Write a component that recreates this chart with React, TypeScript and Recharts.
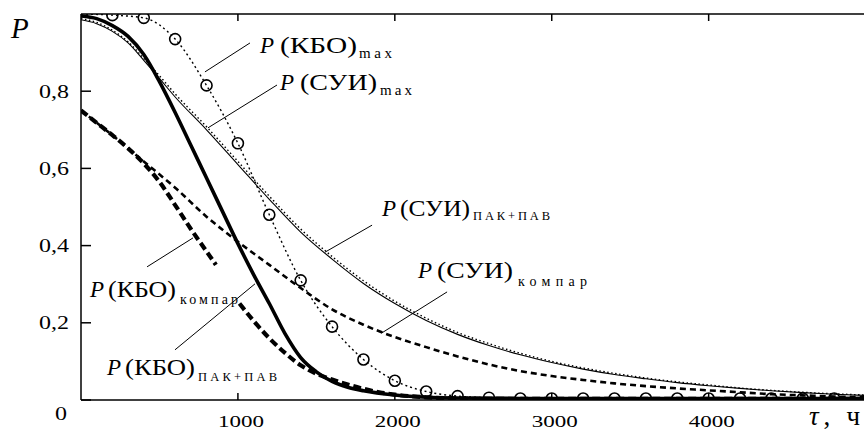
import { LineChart, Line, XAxis, YAxis, ReferenceLine } from 'recharts';

// P(КБО)max – dotted with circles
const tKboMax = [0, 200, 400, 600, 800, 1000, 1200, 1400, 1600, 1800, 2000, 2200, 2400, 2600, 2800, 3000, 3200, 3400, 3600, 3800, 4000, 4200, 4400, 4600, 4800];
const pKboMax = [1.0, 0.997, 0.99, 0.935, 0.815, 0.665, 0.48, 0.31, 0.19, 0.105, 0.05, 0.022, 0.01, 0.006, 0.004, 0.004, 0.004, 0.004, 0.004, 0.004, 0.004, 0.004, 0.004, 0.004, 0.004];

// P(КБО)ПАК+ПАВ – thick solid
const tKboPak = [0, 100, 200, 300, 400, 500, 600, 700, 800, 900, 1000, 1100, 1200, 1300, 1400, 1500, 1600, 1700, 1800, 2000, 2200, 2400, 2800, 3200, 3600, 4000, 4500, 4990];
const pKboPak = [0.995, 0.988, 0.97, 0.942, 0.895, 0.825, 0.745, 0.66, 0.575, 0.49, 0.405, 0.325, 0.25, 0.172, 0.11, 0.073, 0.048, 0.033, 0.024, 0.013, 0.007, 0.005, 0.004, 0.004, 0.004, 0.004, 0.004, 0.004];

// P(КБО)компар – thick dashed (gap where the label sits)
const tKboKomp = [0, 100, 200, 300, 400, 500, 600, 700, 800, 860, 940, 1010, 1100, 1200, 1300, 1400, 1500, 1600, 1700, 1800, 1900, 2000, 2200, 2400, 2600, 3200, 4000, 4990];
const pKboKomp = [0.75, 0.718, 0.686, 0.652, 0.613, 0.565, 0.505, 0.443, 0.385, 0.35, null, 0.25, 0.205, 0.16, 0.122, 0.09, 0.068, 0.053, 0.04, 0.029, 0.02, 0.014, 0.007, 0.004, 0.003, 0.003, 0.003, 0.003];

// shared grid for the СУИ curves
const tSui = [0, 100, 200, 300, 400, 500, 600, 800, 1000, 1200, 1400, 1600, 1800, 2000, 2200, 2400, 2600, 2800, 3000, 3200, 3400, 3600, 3800, 4000, 4200, 4400, 4600, 4800, 4990];
// P(СУИ)max – thin solid
const pSuiMax = [0.985, 0.975, 0.955, 0.925, 0.88, 0.833, 0.785, 0.7, 0.61, 0.52, 0.435, 0.365, 0.302, 0.25, 0.206, 0.17, 0.141, 0.117, 0.097, 0.08, 0.066, 0.055, 0.045, 0.037, 0.03, 0.024, 0.019, 0.015, 0.012];
// P(СУИ)ПАК+ПАВ – thin dotted
const pSuiPak = [0.988, 0.978, 0.958, 0.928, 0.885, 0.84, 0.793, 0.708, 0.618, 0.528, 0.443, 0.372, 0.309, 0.256, 0.212, 0.175, 0.146, 0.121, 0.1, 0.083, 0.069, 0.057, 0.047, 0.039, 0.031, 0.025, 0.02, 0.016, 0.013];

// P(СУИ)компар – medium dashed
const tSuiKomp = [0, 200, 400, 600, 800, 1000, 1200, 1400, 1600, 1800, 2000, 2200, 2400, 2600, 2800, 3000, 3200, 3400, 3600, 3800, 4000, 4200, 4400, 4600, 4800, 4990];
const pSuiKomp = [0.75, 0.686, 0.618, 0.55, 0.475, 0.41, 0.35, 0.29, 0.235, 0.195, 0.163, 0.137, 0.113, 0.092, 0.075, 0.062, 0.052, 0.043, 0.036, 0.03, 0.025, 0.02, 0.015, 0.012, 0.009, 0.007];

const xTicks = [1000, 2000, 3000, 4000];
const yTicks = [0, 0.2, 0.4, 0.6, 0.8];

// leader lines from labels to curves (data coords)
const leaders = [
  [[1077, 0.925], [790, 0.85]],
  [[1249, 0.816], [809, 0.705]],
  [[1855, 0.453], [1555, 0.383]],
  [[2333, 0.28], [1918, 0.174]],
  [[421, 0.345], [714, 0.42]],
  [[599, 0.13], [1109, 0.301]],
];

// curve labels: P at px, (name) start/width, subscript start/width, baselines
const labels = [
  { p: 260, y: 53, name: 'КБО', nx: 280, nw: 77, sub: 'max', sx: 359, sw: 33, sy: 58, ss: 15 },
  { p: 280, y: 90, name: 'СУИ', nx: 300, nw: 77, sub: 'max', sx: 380, sw: 32, sy: 95, ss: 15 },
  { p: 382, y: 216, name: 'СУИ', nx: 400, nw: 70, sub: 'ПАК+ПАВ', sx: 473, sw: 77, sy: 220, ss: 12.5 },
  { p: 418, y: 278, name: 'СУИ', nx: 437, nw: 76, sub: 'компар', sx: 518, sw: 69, sy: 286, ss: 14 },
  { p: 90, y: 297, name: 'КБО', nx: 108, nw: 68, sub: 'компар', sx: 180, sw: 58, sy: 304, ss: 14 },
  { p: 107, y: 375, name: 'КБО', nx: 125, nw: 70, sub: 'ПАК+ПАВ', sx: 198, sw: 79, sy: 381, ss: 12.5 },
];

const zip = (t: number[], p: (number | null)[]) => t.map((x, i) => ({ x, y: p[i] }));

const FONT = "'Liberation Serif', 'Times New Roman', serif";
const txt = { fontFamily: FONT };
const ADJ = 'spacingAndGlyphs';

function XTick({ x, y, payload }: any) {
  return (
    <text x={x + 3} y={y} textAnchor="middle" style={txt} fontSize={17} textLength={46} lengthAdjust={ADJ} fill="#000">
      {payload.value}
    </text>
  );
}

function YTick({ x, y, payload }: any) {
  const v = payload.value as number;
  if (v === 0) {
    return (
      <text x={x - 15} y={y + 20} style={txt} fontSize={18} textLength={12} lengthAdjust={ADJ} fill="#000">0</text>
    );
  }
  return (
    <text x={x - 31} y={y} dy="0.35em" style={txt} fontSize={18} textLength={30} lengthAdjust={ADJ} fill="#000">
      {v.toFixed(1).replace('.', ',')}
    </text>
  );
}

function Lbl({ l }: any) {
  return (
    <g style={txt} fill="#000">
      <text x={l.p} y={l.y} fontSize={23} fontStyle="italic">P</text>
      <text x={l.nx} y={l.y} fontSize={23} textLength={l.nw} lengthAdjust={ADJ}>({l.name})</text>
      <text x={l.sx} y={l.sy} fontSize={l.ss} textLength={l.sw} lengthAdjust="spacing">{l.sub}</text>
    </g>
  );
}

function CircleDot(props: any) {
  const { cx, cy, index, payload } = props;
  if (!payload || payload.x === 0) return <g key={`d${index}`} />;
  return <circle key={`d${index}`} cx={cx} cy={cy} r={5.5} fill="#fff" fillOpacity={0} stroke="#000" strokeWidth={1.6} />;
}

export default function App() {
  return (
    <div style={{ position: 'relative', width: 864, height: 430, background: '#fff', fontFamily: FONT }}>
      <style>{'body{margin:0}'}</style>
      <LineChart width={864} height={430} margin={{ top: 0, right: 0, bottom: 0, left: 0 }}>
        <XAxis
          xAxisId="top"
          orientation="top"
          type="number"
          dataKey="x"
          domain={[0, 4990]}
          ticks={xTicks}
          interval={0}
          height={14}
          allowDataOverflow
          tickSize={-7}
          tick={() => <g />}
          axisLine={{ stroke: '#000', strokeWidth: 1.5 }}
          tickLine={{ stroke: '#000', strokeWidth: 1.5 }}
        />
        <XAxis
          type="number"
          dataKey="x"
          domain={[0, 4990]}
          ticks={xTicks}
          interval={0}
          height={30}
          allowDataOverflow
          tickSize={-7}
          tickMargin={34}
          tick={<XTick />}
          axisLine={{ stroke: '#000', strokeWidth: 1.5 }}
          tickLine={{ stroke: '#000', strokeWidth: 1.5 }}
        />
        <YAxis
          type="number"
          domain={[0, 1]}
          ticks={yTicks}
          interval={0}
          width={81}
          allowDataOverflow
          tickSize={-10}
          tickMargin={21}
          tick={<YTick />}
          axisLine={{ stroke: '#000', strokeWidth: 1.5 }}
          tickLine={{ stroke: '#000', strokeWidth: 1.5 }}
        />
        {leaders.map((seg, i) => (
          <ReferenceLine
            key={i}
            segment={[{ x: seg[0][0], y: seg[0][1] }, { x: seg[1][0], y: seg[1][1] }]}
            stroke="#000"
            strokeWidth={1}
            ifOverflow="visible"
          />
        ))}
        <Line data={zip(tSuiKomp, pSuiKomp)} dataKey="y" type="monotone" stroke="#000" strokeWidth={2.6} strokeDasharray="6 4" dot={false} isAnimationActive={false} />
        <Line data={zip(tKboKomp, pKboKomp)} dataKey="y" type="monotone" stroke="#000" strokeWidth={4.2} strokeDasharray="8 4" dot={false} isAnimationActive={false} connectNulls={false} />
        <Line data={zip(tSui, pSuiMax)} dataKey="y" type="monotone" stroke="#000" strokeWidth={1.1} dot={false} isAnimationActive={false} />
        <Line data={zip(tSui, pSuiPak)} dataKey="y" type="monotone" stroke="#000" strokeWidth={1.4} strokeDasharray="1.5 2.5" dot={false} isAnimationActive={false} />
        <Line data={zip(tKboPak, pKboPak)} dataKey="y" type="monotone" stroke="#000" strokeWidth={3.6} dot={false} isAnimationActive={false} />
        <Line data={zip(tKboMax, pKboMax)} dataKey="y" type="monotone" stroke="#000" strokeWidth={1.4} strokeDasharray="2 3" dot={CircleDot} isAnimationActive={false} />
      </LineChart>
      <svg width={864} height={430} style={{ position: 'absolute', left: 0, top: 0, pointerEvents: 'none' }}>
        <text x={11} y={38} style={txt} fontSize={29} fontStyle="italic" fill="#000">P</text>
        <text x={809} y={425} style={txt} fontSize={27} fill="#000" textLength={51} lengthAdjust="spacing">
          <tspan fontStyle="italic">τ</tspan>
          <tspan>, ч</tspan>
        </text>
        {labels.map((l, i) => (
          <Lbl key={i} l={l} />
        ))}
      </svg>
    </div>
  );
}
